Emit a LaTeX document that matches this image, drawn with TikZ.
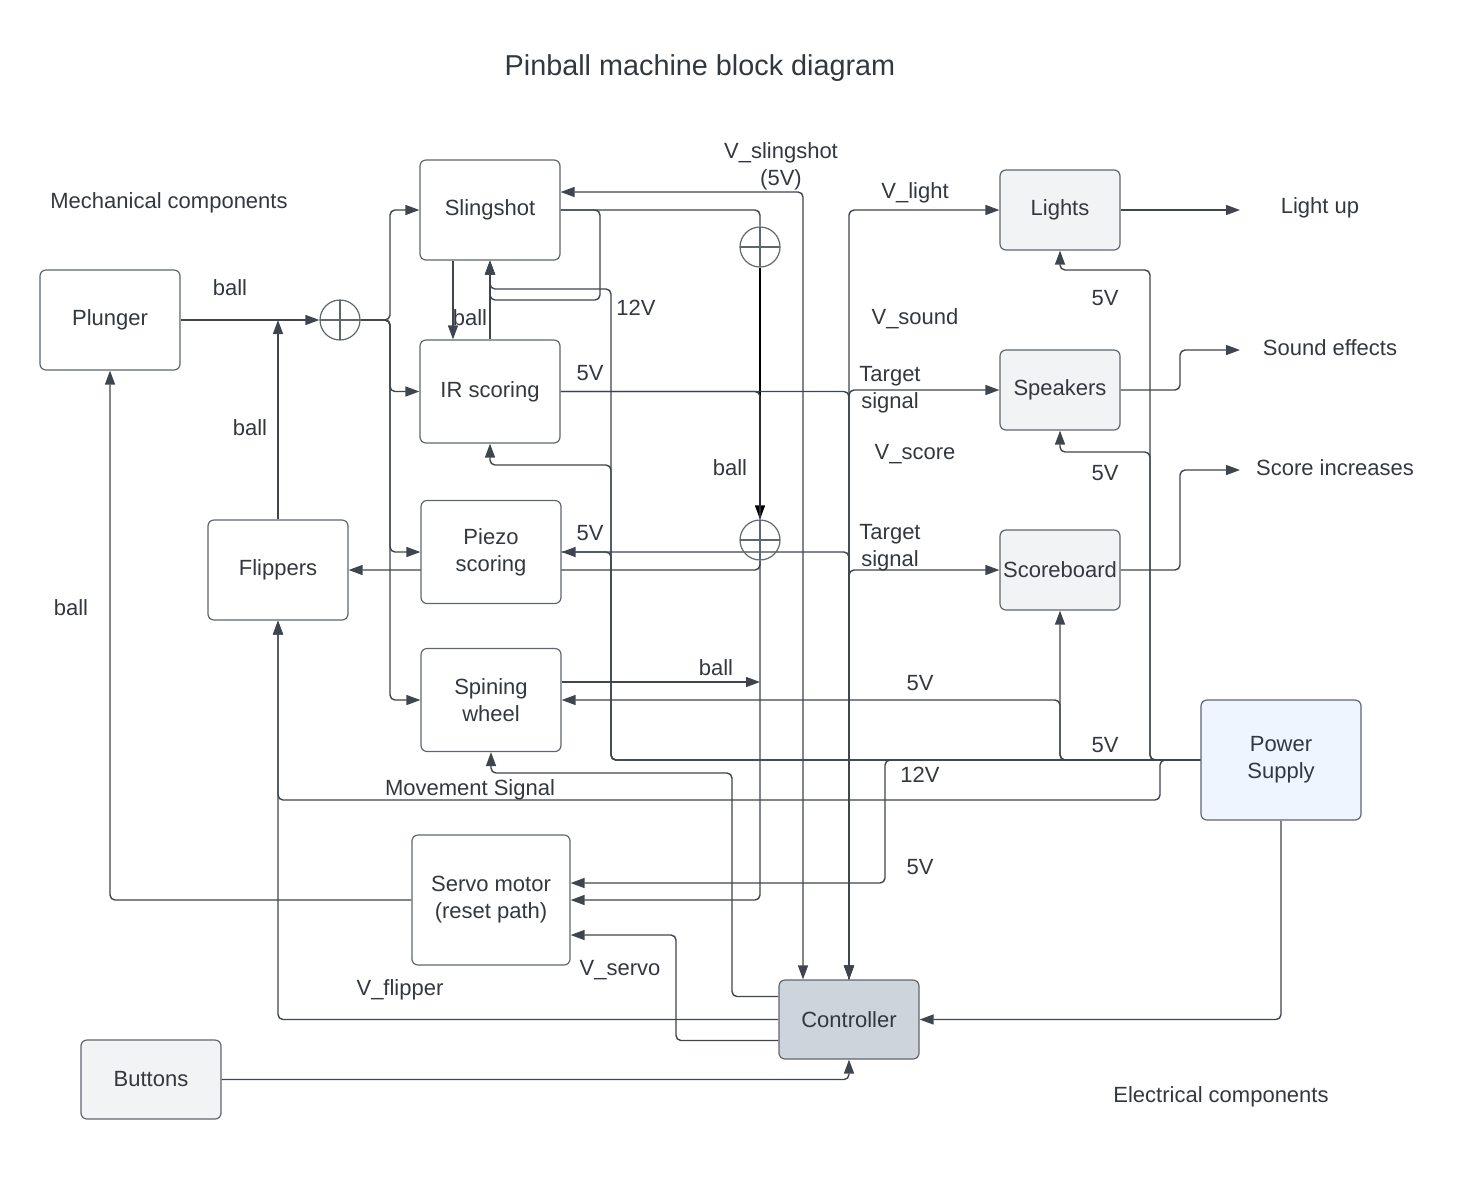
\documentclass[tikz,border=0pt]{standalone}
\usepackage{fontspec}
\setmainfont{Liberation Sans}
\usetikzlibrary{arrows.meta,calc,backgrounds}
\definecolor{ln}{HTML}{3F454E}
\definecolor{tx}{HTML}{333840}
\definecolor{bd}{HTML}{5F6670}
\definecolor{lgray}{HTML}{F2F3F5}
\definecolor{cgray}{HTML}{CED4DB}
\definecolor{pblue}{HTML}{EDF5FF}
\tikzset{
  box/.style={draw=bd, line width=0.6pt, rounded corners=3pt, fill=white, align=center, inner sep=0pt, text=tx, font=\fontsize{11}{13.5}\selectfont},
  sumc/.style={draw=bd, line width=0.6pt, circle, minimum size=20pt, inner sep=0pt,
    path picture={\draw[bd, line width=0.6pt] (path picture bounding box.north) -- (path picture bounding box.south) (path picture bounding box.west) -- (path picture bounding box.east);}},
  lbl/.style={text=tx, font=\fontsize{11}{13.5}\selectfont, align=center, inner sep=0pt},
  wire/.style={draw=ln, line width=0.7pt, rounded corners=2.5pt},
  arr/.style={wire, -{Triangle[length=7pt,width=5pt]}},
  both/.style={wire, {Triangle[length=7pt,width=5pt]}-{Triangle[length=7pt,width=5pt]}},
}
\begin{document}
\begin{tikzpicture}[x=0.5pt,y=-0.5pt]
\useasboundingbox (0,0) rectangle (1471,1180);

% nodes
\node[box, minimum width=70pt, minimum height=50pt] (plunger) at (110,320) {Plunger};
\node[box, minimum width=70pt, minimum height=50pt] (sling) at (490,210) {Slingshot};
\node[box, minimum width=70pt, minimum height=51.5pt] (ir) at (490,391.5) {IR scoring};
\node[box, minimum width=70pt, minimum height=51.5pt] (piezo) at (491,552) {Piezo\\scoring};
\node[box, minimum width=70pt, minimum height=51.5pt] (spin) at (491,700) {Spining\\wheel};
\node[box, minimum width=70pt, minimum height=50pt] (flip) at (278,570) {Flippers};
\node[box, minimum width=79pt, minimum height=65pt] (servo) at (491,900) {Servo motor\\(reset path)};
\node[box, fill=lgray, minimum width=70pt, minimum height=39.5pt] (buttons) at (151,1079.5) {Buttons};
\node[box, fill=lgray, minimum width=60pt, minimum height=40pt] (lights) at (1060,210) {Lights};
\node[box, fill=lgray, minimum width=60pt, minimum height=40pt] (speak) at (1060,390) {Speakers};
\node[box, fill=lgray, minimum width=60pt, minimum height=40pt] (score) at (1060,570) {Scoreboard};
\node[box, fill=pblue, minimum width=80pt, minimum height=60pt] (power) at (1281,760) {Power\\Supply};
\node[box, fill=cgray, minimum width=70pt, minimum height=39.5pt] (ctrl) at (849,1019.5) {Controller};
\node[sumc] (c1) at (340,320) {};
\node[sumc] (c2) at (760,247) {};
\node[sumc] (c3) at (760,540) {};

\coordinate (trunk) at (390,320);
\coordinate (lu) at (1240,210);
\coordinate (se) at (1240,350);
\coordinate (si) at (1240,470);

% labels
\node[lbl, font=\fontsize{14.4}{17}\selectfont] (title) at (700,68) {Pinball machine block diagram};
\node[lbl] (mech) at (169,203) {Mechanical components};
\node[lbl] (elec) at (1221,1097) {Electrical components};
\node[lbl] (b1) at (230,288) {ball};
\node[lbl] (b2) at (250,428) {ball};
\node[lbl] (b3) at (470,318) {ball};
\node[lbl] (b4) at (71,608) {ball};
\node[lbl] (b5) at (730,468) {ball};
\node[lbl] (b6) at (716,668) {ball};
\node[lbl] (vsl) at (781,166) {V\_slingshot\\(5V)};
\node[lbl] (l12a) at (636,308) {12V};
\node[lbl] (l5a) at (590,373) {5V};
\node[lbl] (l5b) at (590,533) {5V};
\node[lbl] (vli) at (915,193) {V\_light};
\node[lbl] (vso) at (915,319) {V\_sound};
\node[lbl] (ts1) at (890,390) {Target\\signal};
\node[lbl] (vsc) at (915,454) {V\_score};
\node[lbl] (ts2) at (890,548) {Target\\signal};
\node[lbl] (l5c) at (1105,298) {5V};
\node[lbl] (l5d) at (1105,473) {5V};
\node[lbl] (l5e) at (1105,745) {5V};
\node[lbl] (l5f) at (920,683) {5V};
\node[lbl] (l12b) at (920,775) {12V};
\node[lbl] (l5g) at (920,867) {5V};
\node[lbl] (mov) at (470,790) {Movement Signal};
\node[lbl] (vse) at (620,970) {V\_servo};
\node[lbl] (vfl) at (400,990) {V\_flipper};
\node[lbl] (lup) at (1320,208) {Light up};
\node[lbl] (sfx) at (1330,348) {Sound effects};
\node[lbl] (sci) at (1335,468) {Score increases};

\begin{scope}[on background layer]
% mechanical ball paths
\draw[arr] (plunger.east) -- (c1.west);
\draw[arr] (flip.north) -- (flip.north |- plunger.east);
\draw[arr] (c1.east) -- (trunk) |- (sling.west);
\draw[arr] (c1.east) -- (trunk) |- (ir.west);
\draw[arr] (c1.east) -- (trunk) |- (piezo.west);
\draw[arr] (c1.east) -- (trunk) |- (spin.west);
\draw[arr] ($(sling.south)+(-37,0)$) -- ($(ir.north)+(-37,0)$);
\draw[arr] (ir.north) -- (sling.south);
\draw[arr] (sling.east) -| (600,300) -| (sling.south);
\draw[wire] (sling.east) -| (c2.north);
\draw[arr, draw=black] (c2.south) -- (c3.north);
\draw[wire] (ir.east) -| (c3.north);
\draw[arr] ($(spin.east)+(0,-18)$) coordinate (sw) -- (sw -| c3);
\draw[arr] (c3.south) |- (flip.east);
\draw[arr] (c3.south) |- (servo.east);
\draw[arr] (servo.west) -| (plunger.south);

% 12V supply to slingshot / IR / piezo
\draw[arr] (power.west) -| (611,289) -| (sling.south);
\draw[arr] (power.west) -| (611,465) -| (ir.south);
\draw[arr] (power.west) -| (611,552) -- (piezo.east);

% controller links
\draw[both] ($(sling.east)+(0,-18)$) -| ($(ctrl.north)+(-46,0)$);
\draw[both] (lights.west) -| (ctrl.north);
\draw[arr] (ctrl.north) |- (speak.west);
\draw[arr] (ctrl.north) |- (score.west);
\draw[arr] (ir.east) -| (ctrl.north);
\draw[arr] (piezo.east) -| (ctrl.north);

% outputs
\draw[arr] (lights.east) -- (lu);
\draw[arr] (speak.east) -| (1180,350) -- (se);
\draw[arr] (score.east) -| (1180,470) -- (si);

% power supply distribution
\draw[arr] (power.west) -| (1150,270) -| (lights.south);
\draw[arr] (power.west) -| (1150,452) -| (speak.south);
\draw[arr] (power.west) -| (score.south);
\draw[arr] (power.west) -| (1060,700) -- (spin.east);
\draw[arr] (power.west) -| (885,883) -- ($(servo.east)+(0,-17)$);
\draw[arr] (power.west) -| (1160,800) -| (flip.south);
\draw[arr] (power.south) |- (ctrl.east);

% controller outputs / inputs
\draw[arr] (buttons.east) -| (ctrl.south);
\draw[arr] (ctrl.west) -| (flip.south);
\draw[arr] ($(ctrl.west)+(0,21)$) -| (676,935) -- ($(servo.east)+(0,35)$);
\draw[arr] ($(ctrl.west)+(0,-23)$) -| (732,773) -| (spin.south);
\end{scope}
\end{tikzpicture}
\end{document}
